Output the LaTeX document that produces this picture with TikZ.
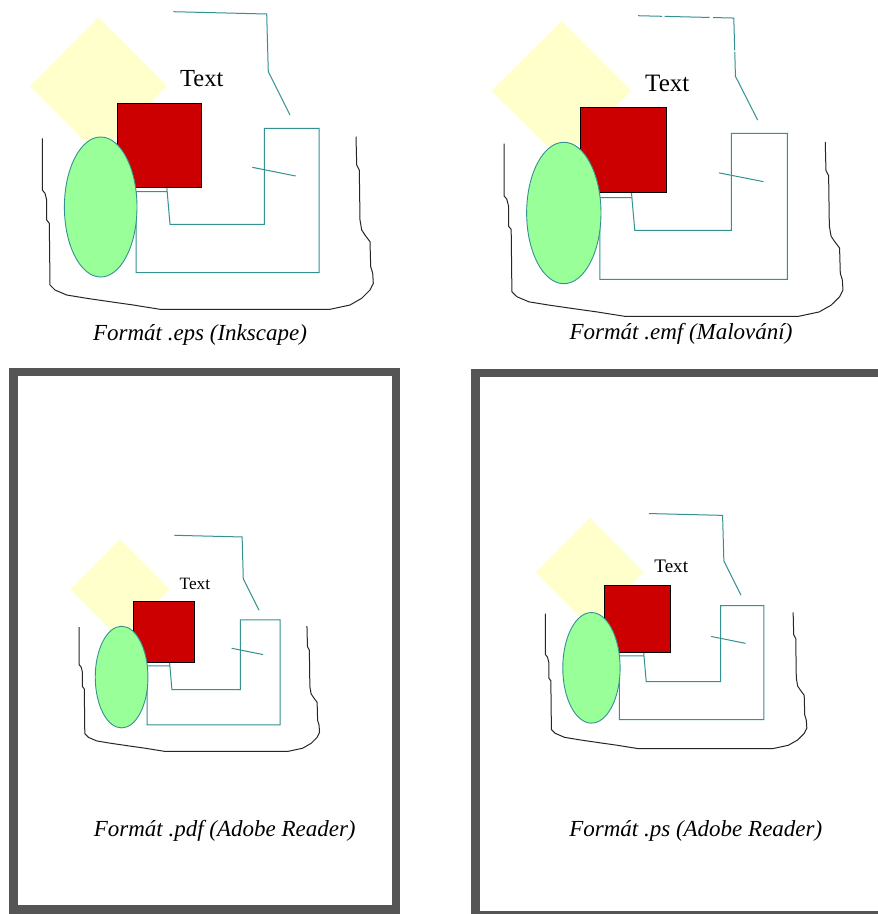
\documentclass[tikz,border=0pt]{standalone}
\usepackage{fontspec}
\setmainfont{Liberation Serif}

\definecolor{paleyellow}{HTML}{FFFFCC}
\definecolor{darkred}{HTML}{CC0000}
\definecolor{lightgreen}{HTML}{99FF99}
\definecolor{tealline}{RGB}{52,145,145}
\definecolor{framegray}{HTML}{555555}

\tikzset{
  teal/.style={draw=tealline,line width=1pt,line join=miter},
  outline/.style={draw=black!85,line width=1pt,line join=round},
  frame/.style={draw=framegray,line width=8.5pt},
  caption/.style={anchor=base,font=\fontsize{23}{23}\itshape}
}

% the test drawing; #1 = size of the label, #2 = options of the top line
\newcommand{\sketch}[2]{%
  \fill[paleyellow] (30,86) -- (98.5,17) -- (167,86) -- (98.5,155) -- cycle;
  \draw[teal,#2] (173.3,11.7) -- (266.7,14) -- (268.3,71.7) -- (290,115);
  \draw[teal] (166.6,185) -- (170,224.3) -- (264.3,224.3) -- (264.3,128.3)
     -- (319,128.3) -- (319,272.7) -- (136,272.7) -- (136,191.7) -- (167.1,191.7);
  \draw[teal] (252.3,167.3) -- (295.7,176);
  \filldraw[fill=darkred,draw=black,line width=0.9pt] (117,103) rectangle (201,187);
  \filldraw[fill=lightgreen,draw=tealline,line width=0.9pt]
     (100.7,207) ellipse [x radius=36.3,y radius=70];
  \draw[outline] (42.3,138.3) -- (42.3,190) -- (45,193.3) -- (46.7,200) -- (46.7,220)
     -- (49.3,223.3) -- (50,285) -- (55,290) -- (66.7,295) -- (86.7,298.3)
     -- (110,301.7) -- (133.3,305) -- (160,309.3) -- (330,309.3) -- (350,305)
     -- (361.7,298.3) -- (370,290) -- (373.3,283.3) -- (372.7,273.3)
     -- (370.7,266.7) -- (370,241.7) -- (365,235) -- (361.7,230) -- (360,220)
     -- (359.3,170) -- (356.7,165) -- (356,136.7);
  \node[anchor=base,inner sep=0pt,font=\fontsize{#1}{#1}\selectfont] at (201.7,86.7) {Text};
}

\begin{document}
\begin{tikzpicture}[x=1pt,y=-1pt]
  \useasboundingbox (0,0) rectangle (878,914);
  \fill[white] (0,0) rectangle (878,914);

  % frames of the two lower views
  \draw[frame] (13.3,372.2) rectangle (396,909.3);
  \draw[frame] (900,373) -- (475.3,373) -- (475.3,915.3) -- (900,915.3);

  % Inkscape
  \begin{scope}
    \sketch{24.5}{}
  \end{scope}
  \node[caption] (capEps) at (200,340) {Formát .eps (Inkscape)};

  % Malovani
  \begin{scope}[shift={(460.7,3.9)},xscale=1.024,yscale=1.01]
    \sketch{25}{dash pattern=on 24pt off 2.5pt on 45pt off 3.5pt on 53pt off 1.5pt on 200pt}
  \end{scope}
  \node[caption] (capEmf) at (681,339.3) {Formát .emf (Malování)};

  % Adobe Reader, pdf
  \begin{scope}[shift={(48.5,526.8)},scale=0.726]
    \sketch{17.3}{}
  \end{scope}
  \node[caption] (capPdf) at (224.7,836.9) {Formát .pdf (Adobe Reader)};

  % Adobe Reader, ps
  \begin{scope}[shift={(511.9,504.3)},scale=0.79]
    \sketch{19.1}{}
  \end{scope}
  \node[caption] (capPs) at (695.8,836.9) {Formát .ps (Adobe Reader)};
\end{tikzpicture}
\end{document}
